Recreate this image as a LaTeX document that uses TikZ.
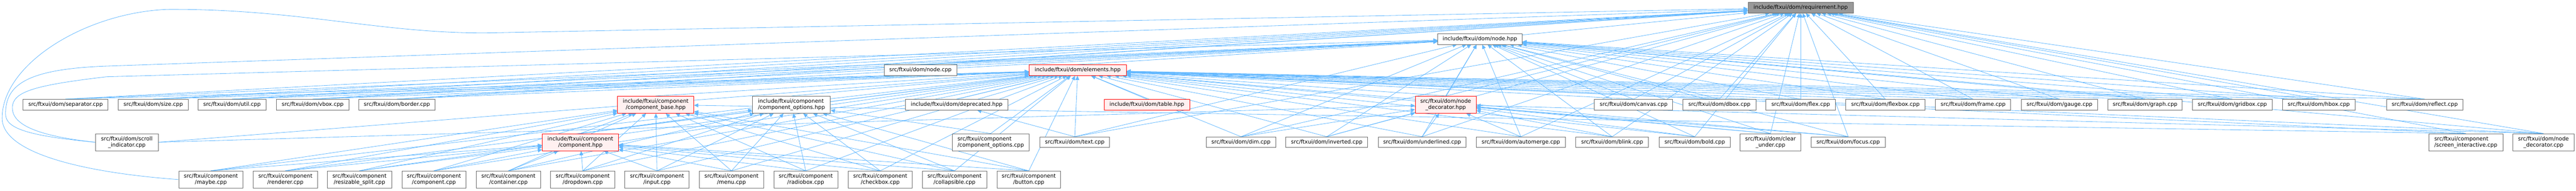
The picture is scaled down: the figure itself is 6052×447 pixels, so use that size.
\documentclass[tikz,border=0pt]{standalone}
\usepackage{fontspec}
\setmainfont{DejaVu Sans}
\usetikzlibrary{arrows.meta,backgrounds}
\definecolor{edgeblue}{HTML}{63B8FF}
\definecolor{boxgray}{HTML}{666666}
\definecolor{rootgray}{HTML}{999999}
\definecolor{cutfill}{HTML}{FFF0F0}

\begin{document}
\begin{tikzpicture}[x=0.75pt, y=-0.75pt,
    file/.style={draw=boxgray, fill=white, line width=0.75pt, inner sep=0pt,
        minimum height=18.75pt, font=\fontsize{9.5}{11.25}\selectfont},
    tallbox/.style={minimum height=30pt, align=center},
    tallleft/.style={minimum height=30pt, align=left},
    cutbox/.style={draw=red, fill=cutfill},
    rootbox/.style={fill=rootgray},
    boxw/.style={minimum width=#1*0.75pt},
    dep/.style={draw=edgeblue, line width=0.75pt,
        -{Triangle[length=7.5pt, width=6.75pt]}}]
    \pgfmathsetmacro{\ya}{18}
    \pgfmathsetmacro{\yb}{91.5}
    \pgfmathsetmacro{\yc}{164.5}
    \pgfmathsetmacro{\yd}{245.5}
    \pgfmathsetmacro{\ye}{333.5}
    \pgfmathsetmacro{\yf}{421}
    \useasboundingbox (0, 0) rectangle (6052, 447);
    % headers
    \node[file, rootbox, boxw=247] (req) at (4230.5, \ya) {include/ftxui/dom/requirement.hpp};
    \node[file, boxw=198] (nodeh) at (3477, \yb) {include/ftxui/dom/node.hpp};
    \node[file, boxw=171] (nodecpp) at (2162.5, \yc) {src/ftxui/dom/node.cpp};
    \node[file, cutbox, boxw=228] (elem) at (2532, \yc) {include/ftxui/dom/elements.hpp};
    \node[file, tallbox, cutbox, boxw=179] (cbase) at (1540.5, \yd) {include/ftxui/component\\/component\_base.hpp};
    \node[file, tallleft, boxw=183] (copt) at (1859.5, \yd) {include/ftxui/component\\/component\_options.hpp};
    \node[file, boxw=241] (deprec) at (2247.5, \yd) {include/ftxui/dom/deprecated.hpp};
    \node[file, cutbox, boxw=201] (table) at (2694.5, \yd) {include/ftxui/dom/table.hpp};
    \node[file, tallbox, cutbox, boxw=143] (ndech) at (3396.5, \yd) {src/ftxui/dom/node\\\_decorator.hpp};
    \node[file, tallbox, cutbox, boxw=179] (comph) at (1363.5, \ye) {include/ftxui/component\\/component.hpp};
    % dom sources
    \node[file, boxw=200] (separator) at (154, \yd) {src/ftxui/dom/separator.cpp};
    \node[file, boxw=164] (size) at (360, \yd) {src/ftxui/dom/size.cpp};
    \node[file, boxw=160] (util) at (545, \yd) {src/ftxui/dom/util.cpp};
    \node[file, boxw=171] (vbox) at (734.5, \yd) {src/ftxui/dom/vbox.cpp};
    \node[file, boxw=179] (border) at (932.5, \yd) {src/ftxui/dom/border.cpp};
    \node[file, boxw=184] (canvas) at (3838, \yd) {src/ftxui/dom/canvas.cpp};
    \node[file, boxw=171] (dbox) at (4039.5, \yd) {src/ftxui/dom/dbox.cpp};
    \node[file, boxw=163] (flex) at (4230.5, \yd) {src/ftxui/dom/flex.cpp};
    \node[file, boxw=187] (flexbox) at (4429.5, \yd) {src/ftxui/dom/flexbox.cpp};
    \node[file, boxw=177] (frame) at (4635.5, \yd) {src/ftxui/dom/frame.cpp};
    \node[file, boxw=179] (gauge) at (4838.5, \yd) {src/ftxui/dom/gauge.cpp};
    \node[file, boxw=175] (graph) at (5039.5, \yd) {src/ftxui/dom/graph.cpp};
    \node[file, boxw=187] (gridbox) at (5244.5, \yd) {src/ftxui/dom/gridbox.cpp};
    \node[file, boxw=171] (hbox) at (5447.5, \yd) {src/ftxui/dom/hbox.cpp};
    \node[file, boxw=179] (reflect) at (5696.5, \yd) {src/ftxui/dom/reflect.cpp};
    \node[file, tallbox, boxw=148] (scroll) at (298, \ye) {src/ftxui/dom/scroll\\\_indicator.cpp};
    \node[file, tallleft, boxw=181] (coptcpp) at (2327.5, \ye) {src/ftxui/component\\/component\_options.cpp};
    \node[file, boxw=164] (text) at (2525, \ye) {src/ftxui/dom/text.cpp};
    \node[file, boxw=163] (dim) at (2915.5, \ye) {src/ftxui/dom/dim.cpp};
    \node[file, boxw=192] (inverted) at (3117, \ye) {src/ftxui/dom/inverted.cpp};
    \node[file, boxw=206] (underlined) at (3341, \ye) {src/ftxui/dom/underlined.cpp};
    \node[file, boxw=210] (automerge) at (3573, \ye) {src/ftxui/dom/automerge.cpp};
    \node[file, boxw=171] (blink) at (3787.5, \ye) {src/ftxui/dom/blink.cpp};
    \node[file, boxw=167] (bold) at (3981.5, \ye) {src/ftxui/dom/bold.cpp};
    \node[file, tallbox, boxw=143] (clearunder) at (4159.5, \ye) {src/ftxui/dom/clear\\\_under.cpp};
    \node[file, boxw=174] (focus) at (4342, \ye) {src/ftxui/dom/focus.cpp};
    \node[file, tallleft, boxw=174] (screen) at (5793, \ye) {src/ftxui/component\\/screen\_interactive.cpp};
    \node[file, tallbox, boxw=143] (ndeccpp) at (5975.5, \ye) {src/ftxui/dom/node\\\_decorator.cpp};
    % component sources
    \node[file, tallbox, boxw=151] (maybe) at (495.5, \yf) {src/ftxui/component\\/maybe.cpp};
    \node[file, tallbox, boxw=151] (renderer) at (670.5, \yf) {src/ftxui/component\\/renderer.cpp};
    \node[file, tallbox, boxw=151] (resizable) at (844.5, \yf) {src/ftxui/component\\/resizable\_split.cpp};
    \node[file, tallbox, boxw=151] (compcpp) at (1019.5, \yf) {src/ftxui/component\\/component.cpp};
    \node[file, tallbox, boxw=151] (container) at (1194.5, \yf) {src/ftxui/component\\/container.cpp};
    \node[file, tallbox, boxw=152] (dropdown) at (1369, \yf) {src/ftxui/component\\/dropdown.cpp};
    \node[file, tallbox, boxw=151] (input) at (1543.5, \yf) {src/ftxui/component\\/input.cpp};
    \node[file, tallbox, boxw=151] (menu) at (1718.5, \yf) {src/ftxui/component\\/menu.cpp};
    \node[file, tallbox, boxw=150] (radiobox) at (1893, \yf) {src/ftxui/component\\/radiobox.cpp};
    \node[file, tallbox, boxw=150] (checkbox) at (2068, \yf) {src/ftxui/component\\/checkbox.cpp};
    \node[file, tallbox, boxw=151] (collapsible) at (2242.5, \yf) {src/ftxui/component\\/collapsible.cpp};
    \node[file, tallbox, boxw=150] (button) at (2417, \yf) {src/ftxui/component\\/button.cpp};
    \begin{scope}[on background layer]
    \draw[dep] (nodeh) -- (req);
    \draw[dep] (elem.north) -- (nodeh);
    \draw[dep] (nodecpp.north) -- (nodeh);
    \draw[dep] (nodecpp.north) -- (req);
    \foreach \s in {deprec,table,cbase,copt}
        \draw[dep] (\s.north) -- (elem);
    \foreach \t in {elem,nodeh,req}
        \draw[dep] (ndech.north) -- (\t);
    \foreach \t in {cbase,copt,elem}
        \draw[dep] (comph.north) -- (\t);
    \foreach \s in {separator,size,util,vbox,border,canvas,dbox,flex,flexbox,%
        frame,gauge,graph,gridbox,hbox,reflect}{
        \foreach \t in {elem,nodeh,req}
            \draw[dep] (\s.north) -- (\t);
    }
    \foreach \s in {dim,inverted,underlined,automerge,blink,bold,clearunder,%
        focus,ndeccpp}{
        \foreach \t in {ndech,elem,nodeh,req}
            \draw[dep] (\s.north) -- (\t);
    }
    \foreach \t in {deprec,elem,nodeh,req}
        \draw[dep] (text.north) -- (\t);
    \foreach \t in {copt,elem}
        \draw[dep] (coptcpp.north) -- (\t);
    \foreach \t in {cbase,elem,req}
        \draw[dep] (screen.north) -- (\t);
    \foreach \t in {ndech,elem}
        \draw[dep] (scroll.east) -- (\t);
    \draw[dep] (scroll.west) .. controls (60, 318) and (13, 300) .. (13, 267)
        .. controls (13, 200) and (60, 162) .. (250, 155) -- (req);
    \draw[dep] (scroll.west) .. controls (80, 318) and (29, 290) .. (29, 253)
        .. controls (29, 215) and (80, 200) .. (250, 180) -- (nodeh);
    \draw[dep] (maybe.west) .. controls (200, 405) and (5, 360) .. (5, 277)
        .. controls (5, 150) and (200, 30) .. (393, 22)
        .. controls (700, 20) and (900, 80) .. (1150, 77) -- (req);
    \foreach \s in {maybe,renderer,resizable,compcpp,container,dropdown,input,%
        menu,radiobox,checkbox,collapsible,button}{
        \foreach \t in {comph,cbase,elem}
            \draw[dep] (\s.north) -- (\t);
    }
    \foreach \s in {container,dropdown,input,menu,radiobox,checkbox,%
        collapsible,button}
        \draw[dep] (\s.north) -- (copt);
    \end{scope}
\end{tikzpicture}
\end{document}
